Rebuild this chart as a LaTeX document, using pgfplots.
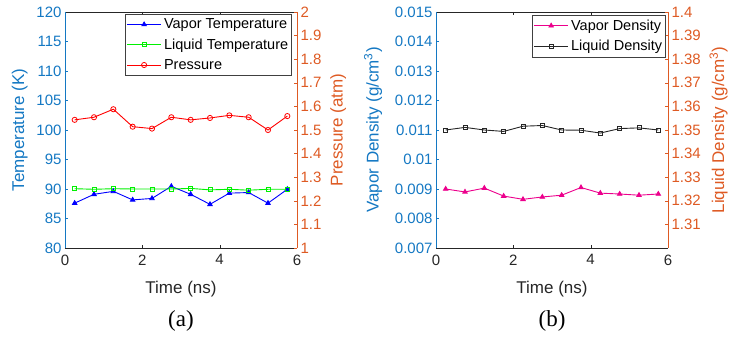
\documentclass[border=0pt]{standalone}
\usepackage{pgfplots}
\pgfplotsset{compat=1.18}
\usepackage{fontspec}
\setmainfont{Liberation Sans}
\newfontfamily\timesfont{Liberation Serif}
\definecolor{mblue}{RGB}{20,120,195}
\definecolor{morange}{RGB}{222,90,35}
\definecolor{axgray}{RGB}{38,38,38}
\definecolor{lgreen}{RGB}{0,240,0}
\newcommand{\lblfont}{\fontsize{17}{17}\selectfont}

\pgfplotstableread{
t vT lT P
0.25 87.6 90.05 1.543
0.75 89.1 89.95 1.554
1.25 89.6 90.05 1.588
1.75 88.15 90.0 1.514
2.25 88.4 90.0 1.506
2.75 90.45 90.0 1.554
3.25 89.1 90.1 1.543
3.75 87.4 89.85 1.551
4.25 89.3 89.95 1.562
4.75 89.4 89.8 1.554
5.25 87.6 89.95 1.500
5.75 89.95 89.95 1.559
}\tabA
\pgfplotstableread{
t vD lD
0.25 0.00900 1.3500
0.75 0.00890 1.3511
1.25 0.00903 1.3500
1.75 0.00876 1.3494
2.25 0.00865 1.3516
2.75 0.00873 1.3519
3.25 0.00879 1.3500
3.75 0.00905 1.3499
4.25 0.00886 1.3487
4.75 0.00883 1.3506
5.25 0.00879 1.3509
5.75 0.00883 1.3500
}\tabB

\pgfplotsset{
  every non boxed x axis/.style={},
  every non boxed y axis/.style={},
  twin/.style={
    scale only axis, width=232pt, height=236pt,
    xmin=0, xmax=6, xtick={0,2,4,6}, enlargelimits=false,
    tick align=inside, major tick length=3pt,
    axis line style={-},
    scaled y ticks=false,
    /pgf/number format/assume math mode=true,
    tick label style={font=\fontsize{15}{15}\selectfont},
    x axis line style={axgray}, xtick style={axgray},
    xticklabel style={axgray, yshift=-3pt},
    legend cell align=left,
    legend image code/.code={\draw[mark repeat=2,mark phase=2,#1] plot coordinates {(0pt,0pt) (17pt,0pt) (34pt,0pt)};},
    legend style={font=\fontsize{14.5}{14.5}\selectfont, draw=black!75, line width=0.6pt,
      anchor=north east, inner xsep=1pt, inner ysep=2pt, row sep=3.5pt,
      nodes={inner sep=2.5pt}},
  },
  leftax/.style={axis x line=box, axis y line=left,
    y axis line style={mblue}, ytick style={mblue},
    yticklabel style={mblue}, ylabel style={mblue, font=\lblfont},
    xlabel style={axgray, font=\lblfont}, xlabel={Time (ns)}, xlabel shift=9pt},
  rightax/.style={axis x line=none, axis y line=right,
    y axis line style={morange}, ytick style={morange},
    yticklabel style={morange}, ylabel style={morange, font=\lblfont}},
  ser/.style={line width=0.9pt, mark options={solid, line width=0.8pt}},
}

\begin{document}
\begin{tikzpicture}
\useasboundingbox (0,0) rectangle (748pt,342pt);
% ---------- panel (a)
\begin{axis}[twin, leftax, at={(65pt,94pt)}, anchor=south west,
  ymin=80, ymax=120, ytick distance=5, ylabel={Temperature (K)}, ylabel shift=2pt]
\addplot[ser, blue, mark=triangle*, mark size=2.6pt] table[x=t,y=vT]{\tabA};
\addplot[ser, lgreen, mark=square, mark size=2pt] table[x=t,y=lT]{\tabA};
\end{axis}
\begin{axis}[twin, rightax, at={(65pt,94pt)}, anchor=south west,
  ymin=1, ymax=2, ytick distance=0.1, ylabel={Pressure (atm)}, ylabel shift=2pt,
  yticklabel style={/pgf/number format/fixed, /pgf/number format/precision=1},
  legend style={at={(1,1)}, xshift=-5pt, yshift=-2pt}]
\addlegendimage{ser, blue, mark=triangle*, mark size=2.6pt}
\addlegendentry{Vapor Temperature}
\addlegendimage{ser, lgreen, mark=square, mark size=2pt}
\addlegendentry{Liquid Temperature}
\addplot[ser, red, mark=o, mark size=2.6pt] table[x=t,y=P]{\tabA};
\addlegendentry{Pressure}
\end{axis}
\node[font=\timesfont\fontsize{23}{23}\selectfont] at (181pt,21pt) {(a)};
% ---------- panel (b)
\begin{axis}[twin, leftax, at={(436pt,94pt)}, anchor=south west,
  ymin=0.007, ymax=0.015, ytick distance=0.001,
  yticklabel style={/pgf/number format/fixed, /pgf/number format/precision=3},
  ylabel={Vapor Density (g/cm\textsuperscript{3})}, ylabel shift=6pt]
\addplot[ser, magenta, mark=triangle*, mark size=2.6pt] table[x=t,y=vD]{\tabB};
\end{axis}
\begin{axis}[twin, rightax, at={(436pt,94pt)}, anchor=south west,
  ymin=1.3, ymax=1.4, ytick={1.31,1.32,1.33,1.34,1.35,1.36,1.37,1.38,1.39,1.4},
  yticklabel style={/pgf/number format/fixed, /pgf/number format/precision=2},
  ylabel={Liquid Density (g/cm\textsuperscript{3})}, ylabel shift=2pt,
  legend style={at={(1,1)}, xshift=-2pt, yshift=-3pt}]
\addlegendimage{ser, magenta, mark=triangle*, mark size=2.6pt}
\addlegendentry{Vapor Density}
\addplot[ser, black!85, mark=square, mark size=2pt] table[x=t,y=lD]{\tabB};
\addlegendentry{Liquid Density}
\end{axis}
\node[font=\timesfont\fontsize{23}{23}\selectfont] at (552pt,21pt) {(b)};
\end{tikzpicture}
\end{document}
